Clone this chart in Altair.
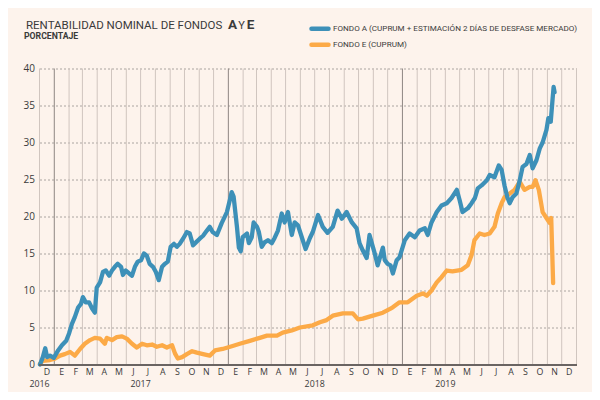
import altair as alt
import pandas as pd

# ---------------- data ----------------
START = "2016-12-01"
END = "2020-01-01"

SERIES_NAMES = [
    "FONDO A (CUPRUM + ESTIMACIÓN 2 DÍAS DE DESFASE MERCADO)",
    "FONDO E (CUPRUM)",
]

# days since 2016-12-01
BLUE_DAYS = [1, 7, 12, 16, 22, 30, 39, 47, 56, 62, 68, 74, 81, 87, 91, 97, 104, 110, 116, 120,
             127, 133, 139, 146, 152, 158, 164, 171, 175, 181, 188, 194, 200, 206, 213, 219, 225,
             231, 238, 244, 250, 257, 263, 269, 275, 282, 288, 294, 301, 309, 315, 322, 328, 336,
             343, 351, 357, 363, 372, 382, 393, 399, 403, 407, 414, 418, 422, 426, 435, 439, 445,
             449, 456, 460, 466, 472, 479, 487, 493, 500, 508, 514, 521, 529, 535, 542, 550, 558,
             567, 573, 584, 594, 604, 615, 625, 634, 644, 655, 665, 671, 678, 686, 692, 699, 703,
             709, 720, 724, 730, 736, 741, 749, 755, 766, 776, 787, 797, 808, 814, 822, 833, 843,
             854, 864, 875, 881, 887, 898, 906, 913, 919, 927, 938, 944, 954, 963, 969, 975, 981,
             986, 992, 1000, 1007, 1013, 1021, 1028, 1034, 1042, 1049, 1055, 1063, 1067, 1072,
             1076, 1078, 1080]
BLUE_VALUES = [0.0, 1.0, 2.2, 1.0, 1.2, 0.9, 1.9, 2.6, 3.2, 4.2, 5.5, 6.4, 7.7, 8.2, 9.1, 8.4,
               8.4, 7.6, 7.0, 10.4, 11.1, 12.5, 12.7, 12.0, 12.7, 13.2, 13.6, 13.2, 12.1, 12.7,
               12.3, 12.0, 13.2, 13.9, 14.1, 15.0, 14.7, 13.6, 13.2, 12.5, 11.4, 13.2, 13.6, 13.9,
               15.9, 16.3, 15.9, 16.3, 17.0, 17.9, 17.7, 16.1, 16.5, 17.0, 17.4, 18.1, 18.6, 17.9,
               17.5, 19.1, 20.6, 22.2, 23.3, 22.7, 18.6, 15.8, 15.3, 17.2, 17.7, 16.4, 17.2, 19.2,
               18.6, 17.9, 15.9, 16.5, 16.8, 16.4, 17.1, 18.1, 20.4, 19.2, 20.6, 17.5, 19.2, 18.8,
               17.2, 15.6, 17.1, 17.9, 20.2, 18.6, 17.8, 18.6, 20.8, 19.7, 20.6, 19.2, 18.4, 16.4,
               15.4, 14.4, 17.5, 15.9, 15.0, 13.4, 15.8, 14.1, 13.6, 13.4, 12.3, 14.1, 14.5, 16.8,
               17.7, 17.2, 18.1, 18.4, 17.5, 19.2, 20.6, 21.5, 21.8, 22.5, 23.6, 22.2, 20.6, 21.1,
               21.8, 22.5, 23.8, 24.2, 24.9, 25.6, 25.3, 26.9, 26.3, 24.2, 22.6, 21.8, 22.6, 23.1,
               24.9, 26.7, 27.1, 28.3, 26.5, 27.6, 29.2, 30.0, 31.7, 33.3, 32.8, 36.0, 37.5, 36.8]

ORANGE_DAYS = [1, 7, 22, 32, 43, 53, 64, 74, 85, 95, 106, 116, 127, 137, 141, 152, 162, 173, 183,
               194, 204, 215, 225, 236, 246, 257, 267, 278, 284, 290, 299, 309, 320, 330, 343, 357,
               368, 384, 405, 420, 441, 462, 477, 498, 510, 529, 546, 573, 588, 602, 615, 636, 657,
               668, 678, 699, 720, 740, 755, 772, 791, 804, 812, 822, 833, 843, 854, 866, 885, 898,
               906, 912, 923, 933, 944, 954, 961, 969, 975, 986, 996, 1007, 1017, 1028, 1034, 1040,
               1047, 1055, 1063, 1070, 1073, 1077]
ORANGE_VALUES = [0.1, 0.5, 0.6, 0.8, 1.2, 1.4, 1.7, 1.2, 2.1, 2.8, 3.3, 3.6, 3.5, 2.8, 3.6, 3.3,
                 3.7, 3.8, 3.5, 2.8, 2.3, 2.8, 2.6, 2.7, 2.4, 2.6, 2.3, 2.6, 1.5, 0.8, 1.0, 1.4,
                 1.8, 1.6, 1.4, 1.2, 1.9, 2.1, 2.5, 2.8, 3.2, 3.6, 3.9, 3.9, 4.3, 4.6, 5.0, 5.3,
                 5.7, 6.0, 6.6, 6.9, 6.9, 6.1, 6.2, 6.6, 7.0, 7.7, 8.4, 8.4, 9.3, 9.6, 9.3, 10.0,
                 11.1, 11.8, 12.7, 12.6, 12.8, 13.4, 14.8, 16.8, 17.7, 17.5, 17.7, 18.6, 20.4, 21.8,
                 22.6, 23.1, 23.6, 24.7, 23.6, 24.0, 24.0, 24.9, 23.6, 20.6, 19.8, 19.1, 19.8, 11.0]

MONTH_LETTERS = ["E", "F", "M", "A", "M", "J", "J", "A", "S", "O", "N", "D"]
YEAR_LABELS = ["2016", "2017", "2018", "2019"]
YEAR_LABEL_DATES = ["2016-12-01", "2017-07-01", "2018-07-01", "2019-04-01"]
Y_TICKS = [0, 5, 10, 15, 20, 25, 30, 35, 40]

TITLE_MAIN = "RENTABILIDAD NOMINAL DE FONDOS"
TITLE_PARTS = ["A", "Y", "E"]
SUBTITLE = "PORCENTAJE"

# ---------------- styling ----------------
W, H = 537, 296
BG = "#fdf3ec"
BLUE = "#3d90b8"
ORANGE = "#fcaa47"
TXT = "#3a3a3a"
NARROW = "Roboto"
LABEL_FONT = "Open Sans"

origin = pd.Timestamp(START)
blue = pd.DataFrame({"date": origin + pd.to_timedelta(BLUE_DAYS, unit="D"),
                     "value": BLUE_VALUES, "serie": SERIES_NAMES[0]})
orange = pd.DataFrame({"date": origin + pd.to_timedelta(ORANGE_DAYS, unit="D"),
                       "value": ORANGE_VALUES, "serie": SERIES_NAMES[1]})

starts = pd.date_range(START, END, freq="MS")
grid_df = pd.DataFrame({"date": starts, "yearstart": [d.month == 1 and d.year < 2020 for d in starts]})
mids = starts[:-1] + (starts[1:] - starts[:-1]) / 2
month_df = pd.DataFrame({"date": mids, "letter": [MONTH_LETTERS[d.month - 1] for d in starts[:-1]]})
year_df = pd.DataFrame({"date": pd.to_datetime(YEAR_LABEL_DATES), "label": YEAR_LABELS})

xscale = alt.Scale(domain=[alt.DateTime(year=2016, month=12, date=1),
                           alt.DateTime(year=2020, month=1, date=1)])
yscale = alt.Scale(domain=[0, 40], nice=False)

vgrid = alt.Chart(grid_df).mark_rule(strokeWidth=1).encode(
    x=alt.X("date:T", scale=xscale, axis=None),
    y=alt.value(0), y2=alt.value(H),
    color=alt.condition("datum.yearstart", alt.value("#8e8682"), alt.value("#d0c5bf")),
)

def line(df, color):
    return alt.Chart(df).mark_line(strokeWidth=4.3, strokeCap="round", strokeJoin="round",
                                   color=color, interpolate="linear").encode(
        x=alt.X("date:T", scale=xscale, axis=None),
        y=alt.Y("value:Q", scale=yscale,
                axis=alt.Axis(values=Y_TICKS, grid=True, gridDash=[2, 2], gridColor="#aaa4a0",
                              gridWidth=1, domain=False, ticks=False, labelPadding=5,
                              labelFontSize=10, labelFont=LABEL_FONT, labelColor=TXT, title=None)),
    )

base_axis = alt.Chart(grid_df).mark_rule(color="#6b6562", strokeWidth=1).encode(
    x=alt.value(0), x2=alt.value(W), y=alt.value(H + 0.5))

months = alt.Chart(month_df).mark_text(font=LABEL_FONT, fontSize=8.8, color=TXT,
                                       baseline="middle", align="center").encode(
    x=alt.X("date:T", scale=xscale, axis=None), y=alt.value(H + 7.6), text="letter:N")
years = alt.Chart(year_df).mark_text(font=LABEL_FONT, fontSize=8.8, color=TXT,
                                     baseline="middle", align="center").encode(
    x=alt.X("date:T", scale=xscale, axis=None), y=alt.value(H + 19.2), text="label:N")

title_main = alt.Chart(pd.DataFrame({"t": [TITLE_MAIN]})).mark_text(
    font=NARROW, fontSize=11.5, color=TXT, align="left", baseline="alphabetic").encode(
    x=alt.value(-13.5), y=alt.value(-39.8), text="t:N")
title_a = alt.Chart(pd.DataFrame({"t": [TITLE_PARTS[0]]})).mark_text(
    font=NARROW, fontSize=13.5, fontWeight="bold", color=TXT, align="left", baseline="alphabetic").encode(
    x=alt.value(188.5), y=alt.value(-39.8), text="t:N")
title_y = alt.Chart(pd.DataFrame({"t": [TITLE_PARTS[1]]})).mark_text(
    font=NARROW, fontSize=11, color=TXT, align="left", baseline="alphabetic").encode(
    x=alt.value(198.8), y=alt.value(-39.8), text="t:N")
title_e = alt.Chart(pd.DataFrame({"t": [TITLE_PARTS[2]]})).mark_text(
    font=NARROW, fontSize=13.5, fontWeight="bold", color=TXT, align="left", baseline="alphabetic").encode(
    x=alt.value(207.3), y=alt.value(-39.8), text="t:N")
subtitle = alt.Chart(pd.DataFrame({"t": [SUBTITLE]})).mark_text(
    font=NARROW, fontSize=8.7, fontWeight="bold", color=TXT, align="left", baseline="alphabetic").encode(
    x=alt.value(-15.5), y=alt.value(-29.5), text="t:N")

leg_rules = []
leg_texts = []
for i, (name, col) in enumerate(zip(SERIES_NAMES, [BLUE, ORANGE])):
    yy = -39.8 + 16 * i
    leg_rules.append(alt.Chart(pd.DataFrame({"serie": [name]})).mark_rule(
        color=col, strokeWidth=4.5, strokeCap="round").encode(
        x=alt.value(272), x2=alt.value(289), y=alt.value(yy)))
    leg_texts.append(alt.Chart(pd.DataFrame({"serie": [name]})).mark_text(
        font=NARROW, fontSize=8.1, color=TXT, align="left", baseline="middle").encode(
        x=alt.value(293.5), y=alt.value(yy + 0.3), text="serie:N"))

chart = alt.layer(
    vgrid, line(orange, ORANGE), line(blue, BLUE), base_axis, months, years,
    title_main, title_a, title_y, title_e, subtitle, *leg_rules, *leg_texts,
).properties(
    width=W, height=H,
    autosize=alt.AutoSizeParams(type="none"),
    padding={"left": 31.5, "top": 60.5, "right": 15.5, "bottom": 27.5},
    background=BG,
).configure_view(stroke=None)

chart.save("out.html", embed_options={"renderer": "svg", "actions": False})
